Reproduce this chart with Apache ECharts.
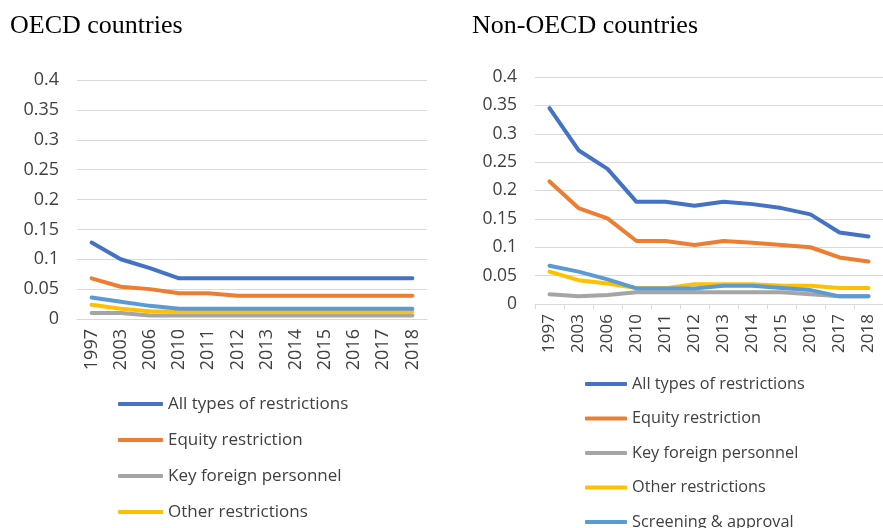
<!DOCTYPE html>
<html>
<head>
<meta charset="utf-8">
<script src="https://cdn.jsdelivr.net/npm/echarts@6/dist/echarts.min.js"></script>
<style>
  html, body { margin: 0; padding: 0; background: #fff; }
  #main { width: 883px; height: 528px; }
</style>
</head>
<body>
<div id="main"></div>
<script>
// years on the x axis
const years = ['1997', '2003', '2006', '2010', '2011', '2012', '2013', '2014', '2015', '2016', '2017', '2018'];
const seriesNames = ['All types of restrictions', 'Equity restriction', 'Key foreign personnel', 'Other restrictions', 'Screening & approval'];
const colors = ['#4472C4', '#ED7D31', '#A5A5A5', '#FFC000', '#5B9BD5'];

// OECD countries
const oecdAll = [0.128, 0.100, 0.085, 0.068, 0.068, 0.068, 0.068, 0.068, 0.068, 0.068, 0.068, 0.068];
const oecdEquity = [0.068, 0.054, 0.050, 0.043, 0.043, 0.039, 0.039, 0.039, 0.039, 0.039, 0.039, 0.039];
const oecdKey = [0.010, 0.010, 0.006, 0.006, 0.006, 0.006, 0.006, 0.006, 0.006, 0.006, 0.006, 0.006];
const oecdOther = [0.024, 0.017, 0.013, 0.012, 0.012, 0.012, 0.012, 0.012, 0.012, 0.012, 0.012, 0.012];
const oecdScreening = [0.036, 0.029, 0.022, 0.017, 0.017, 0.017, 0.017, 0.017, 0.017, 0.017, 0.017, 0.017];

// Non-OECD countries
const nonAll = [0.345, 0.271, 0.238, 0.180, 0.180, 0.173, 0.180, 0.176, 0.169, 0.158, 0.126, 0.119];
const nonEquity = [0.216, 0.169, 0.151, 0.111, 0.111, 0.104, 0.111, 0.108, 0.104, 0.100, 0.082, 0.075];
const nonKey = [0.017, 0.0135, 0.016, 0.0205, 0.0205, 0.0205, 0.0205, 0.0205, 0.0205, 0.017, 0.0135, 0.0135];
const nonOther = [0.057, 0.042, 0.036, 0.028, 0.028, 0.035, 0.035, 0.035, 0.032, 0.032, 0.028, 0.028];
const nonScreening = [0.0675, 0.057, 0.0435, 0.0275, 0.0275, 0.0275, 0.032, 0.032, 0.028, 0.0245, 0.0135, 0.0135];

const oecdData = [oecdAll, oecdEquity, oecdKey, oecdOther, oecdScreening];
const nonData = [nonAll, nonEquity, nonKey, nonOther, nonScreening];

const labelFont = 'Open Sans';

const makeSeries = (data, idx) => data.map((vals, i) => ({
    name: seriesNames[i],
    type: 'line',
    xAxisIndex: idx,
    yAxisIndex: idx,
    data: vals,
    symbol: 'none',
    smooth: false,
    color: colors[i],
    lineStyle: { width: 4, color: colors[i], cap: 'round', join: 'round' },
    emphasis: { disabled: true }
}));

const makeX = (idx, fontSize, showTick) => ({
    type: 'category',
    gridIndex: idx,
    data: years,
    boundaryGap: true,
    axisLine: { show: true, lineStyle: { color: '#D9D9D9', width: 1 } },
    axisTick: { show: showTick, length: 5, lineStyle: { color: '#D9D9D9' } },
    axisLabel: { rotate: 90, margin: 10, fontSize: fontSize, fontFamily: labelFont, color: '#404040', interval: 0 }
});

const makeY = (idx, fontSize) => ({
    type: 'value',
    gridIndex: idx,
    min: 0,
    max: 0.4,
    interval: 0.05,
    axisLine: { show: false },
    axisTick: { show: false },
    splitLine: { lineStyle: { color: '#D9D9D9', width: 1 } },
    axisLabel: { margin: 18, fontSize: fontSize, fontFamily: labelFont, color: '#404040' }
});

const makeLegend = (left, top, iconW, gap, fontSize) => ({
    orient: 'vertical',
    left: left,
    top: top,
    height: 400,
    icon: 'roundRect',
    itemWidth: iconW,
    itemHeight: 4,
    itemGap: gap,
    data: seriesNames,
    selectedMode: false,
    textStyle: { fontSize: fontSize, fontFamily: labelFont, color: '#404040', lineHeight: 20 }
});

const chart = echarts.init(document.getElementById('main'), null, { renderer: 'canvas' });
chart.setOption({
    backgroundColor: '#fff',
    animation: false,
    title: [
        { text: 'OECD countries', left: 5, top: 8, textStyle: { fontFamily: 'Liberation Serif', fontSize: 26, fontWeight: 'normal', color: '#000' } },
        { text: 'Non-OECD countries', left: 467, top: 8, textStyle: { fontFamily: 'Liberation Serif', fontSize: 26, fontWeight: 'normal', color: '#000' } }
    ],
    legend: [
        makeLegend(113, 389, 45, 16, 17),
        makeLegend(580, 369, 42, 14.5, 16.3)
    ],
    grid: [
        { left: 77, top: 80, width: 350, height: 239 },
        { left: 535, top: 77, width: 353, height: 227 }
    ],
    xAxis: [makeX(0, 18, false), makeX(1, 17, true)],
    yAxis: [makeY(0, 18), makeY(1, 17.5)],
    series: [...makeSeries(oecdData, 0), ...makeSeries(nonData, 1)]
});
</script>
</body>
</html>
